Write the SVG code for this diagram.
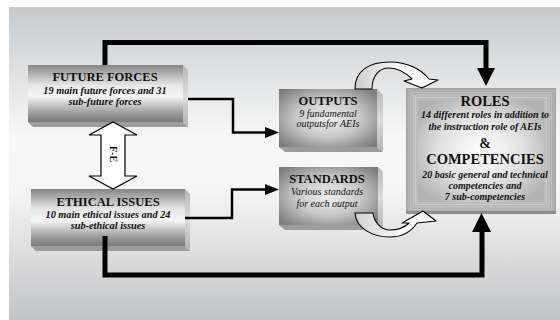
<svg xmlns="http://www.w3.org/2000/svg" width="560" height="320" viewBox="0 0 560 320" font-family="'Liberation Serif', 'DejaVu Serif', serif">
<defs>
<linearGradient id="bg" x1="0" y1="0" x2="0" y2="1">
<stop offset="0" stop-color="#c7cbce"/>
<stop offset="0.42" stop-color="#f8f8f8"/>
<stop offset="0.58" stop-color="#f6f6f6"/>
<stop offset="1" stop-color="#c3c4c6"/>
</linearGradient>
<linearGradient id="cyl" x1="0" y1="0" x2="0" y2="1">
<stop offset="0" stop-color="#858585"/>
<stop offset="0.35" stop-color="#e6e6e6"/>
<stop offset="0.55" stop-color="#f6f6f6"/>
<stop offset="0.85" stop-color="#9a9a9a"/>
<stop offset="1" stop-color="#7a7a7a"/>
</linearGradient>
<linearGradient id="side" x1="0" y1="0" x2="0" y2="1">
<stop offset="0" stop-color="#b8b8b8"/>
<stop offset="0.5" stop-color="#dcdcdc"/>
<stop offset="1" stop-color="#b0b0b0"/>
</linearGradient>
<radialGradient id="pyr" cx="0.5" cy="0.5" r="0.65">
<stop offset="0" stop-color="#efefef"/>
<stop offset="0.5" stop-color="#c8c8c8"/>
<stop offset="1" stop-color="#7c7c7c"/>
</radialGradient>
<radialGradient id="rolesg" cx="0.5" cy="0.5" r="0.6">
<stop offset="0" stop-color="#ffffff"/>
<stop offset="0.55" stop-color="#e2e2e2"/>
<stop offset="1" stop-color="#b2b2b2"/>
</radialGradient>
<linearGradient id="curv" x1="0" y1="0" x2="1" y2="0">
<stop offset="0" stop-color="#cfcfcf"/>
<stop offset="0.6" stop-color="#ffffff"/>
<stop offset="1" stop-color="#ffffff"/>
</linearGradient>
<style>
text{font-family:"Liberation Serif","DejaVu Serif",serif}
.t{fill:#111;text-anchor:middle}
.h{font-weight:bold;font-size:12.5px}
.hb{font-weight:bold;font-size:14.5px}
.s{font-weight:bold;font-style:italic;font-size:10.3px}
.i{font-style:italic;font-size:10px}
.bottom{fill:#9c9c9c}
.sd{fill:url(#side)}
.line{fill:none;stroke:#000;stroke-linejoin:miter}
.blk{fill:#000}
.blockarrow{fill:url(#curv);stroke:#000;stroke-width:1.1;stroke-linejoin:round}
</style>
</defs>
<rect x="0" y="0" width="560" height="320" fill="#ffffff"/>
<rect x="9" y="7" width="551" height="313" fill="url(#bg)"/>

<g id="future-forces">
<polygon class="bottom" points="28,122 183,122 188,127 33,127"/>
<polygon class="sd" points="183,65 188,70 188,127 183,122"/>
<rect x="28" y="65" width="155" height="57" fill="url(#cyl)"/>
<text class="t h" x="105" y="81">FUTURE FORCES</text>
<text class="t s" x="105" y="93.5">19 main future forces and 31</text>
<text class="t s" x="105" y="104.5">sub-future forces</text>
</g>

<g id="ethical-issues">
<polygon class="bottom" points="31,246 185,246 190,251 36,251"/>
<polygon class="sd" points="185,189 190,194 190,251 185,246"/>
<rect x="31" y="189" width="154" height="57" fill="url(#cyl)"/>
<text class="t h" x="108" y="206">ETHICAL ISSUES</text>
<text class="t s" x="108" y="217.5">10 main ethical issues and 24</text>
<text class="t s" x="108" y="228.5">sub-ethical issues</text>
</g>

<g id="outputs">
<polygon class="bottom" points="279,147 377,147 383,152 285,152"/>
<polygon class="sd" points="377,89 383,95 383,152 377,147"/>
<rect x="279" y="89" width="98" height="58" fill="url(#pyr)"/>
<text class="t h" x="328" y="105">OUTPUTS</text>
<text class="t i" x="328" y="116.5">9 fundamental</text>
<text class="t i" x="328" y="127">outputsfor AEIs</text>
</g>

<g id="standards">
<polygon class="bottom" points="279,225 378,225 383,230 285,230"/>
<polygon class="sd" points="378,167 383,172 383,230 378,225"/>
<rect x="279" y="167" width="99" height="58" fill="url(#pyr)"/>
<text class="t h" x="327" y="183">STANDARDS</text>
<text class="t i" x="327" y="195">Various standards</text>
<text class="t i" x="327" y="206.5">for each output</text>
</g>

<g id="roles-competencies">
<rect x="406" y="88" width="150" height="126" fill="#a2a2a2"/>
<rect x="408" y="90" width="146" height="122" fill="#aaaaaa" stroke="#c6c6c6" stroke-width="0.6"/>
<rect x="410.5" y="92.5" width="141" height="117" fill="#b1b1b1" stroke="#cdcdcd" stroke-width="0.6"/>
<rect x="413" y="95" width="136" height="112" fill="#b7b7b7" stroke="#d2d2d2" stroke-width="0.6"/>
<rect x="415.5" y="97.5" width="131" height="107" fill="#bcbcbc" stroke="#d6d6d6" stroke-width="0.6"/>
<rect x="418" y="100" width="126" height="102" fill="url(#rolesg)"/>
<rect x="406" y="211" width="150" height="3" fill="#8e8e8e"/>
<text class="t hb" x="485" y="106">ROLES</text>
<text class="t s" x="485" y="118" style="font-size:10px">14 different roles in addition to</text>
<text class="t s" x="485" y="130" style="font-size:10px">the instruction role of AEIs</text>
<text class="t" x="485" y="148" style="font-weight:bold;font-size:14px">&amp;</text>
<text class="t hb" x="485" y="164">COMPETENCIES</text>
<text class="t s" x="485" y="178" style="font-size:10px">20 basic general and technical</text>
<text class="t s" x="485" y="189" style="font-size:10px">competencies and</text>
<text class="t s" x="485" y="199.5" style="font-size:10px">7 sub-competencies</text>
</g>

<g id="fe-arrow">
<path d="M113,122 L137,135 L125,135 L125,176 L137,176 L113,189 L89,176 L101,176 L101,135 L89,135 Z" fill="#ffffff" stroke="#000" stroke-width="1.2"/>
<text class="t" x="0" y="0" transform="translate(113,154) rotate(90)" dominant-baseline="central" style="font-weight:bold;font-size:10px">F-E</text>
</g>

<g id="connectors">
<path class="line" d="M105,65 V42.5 H486 V70" stroke-width="5"/>
<polygon class="blk" points="477,68 495,68 486,86"/>
<path class="line" d="M105,236 V275 H482 V231" stroke-width="5"/>
<polygon class="blk" points="472,232 491,232 481.5,213"/>
<path class="line" d="M188,99 H233 V132.5 H266" stroke-width="2.5"/>
<polygon class="blk" points="265,127 265,138 279,132.5"/>
<path class="line" d="M185,218 H232 V189.5 H266" stroke-width="2.5"/>
<polygon class="blk" points="265,184 265,195 279,189.5"/>
<path class="blockarrow" d="M355,89 C355,70 370,62 390,62 C407,62 421,69 429,79 L438,80 L422,88 L404,81 L412,79 C405,72 397,68 389,68 C379,68 372,76 372,89 Z"/>
<path class="blockarrow" d="M355,213 C356,228 372,237 390,237 C402,237 411,232 417,223 L436,221 L423,211 L402,223 L409,223 C404,228 397,230 390,230 C381,230 374,222 373,213 Z"/>
</g>
</svg>
